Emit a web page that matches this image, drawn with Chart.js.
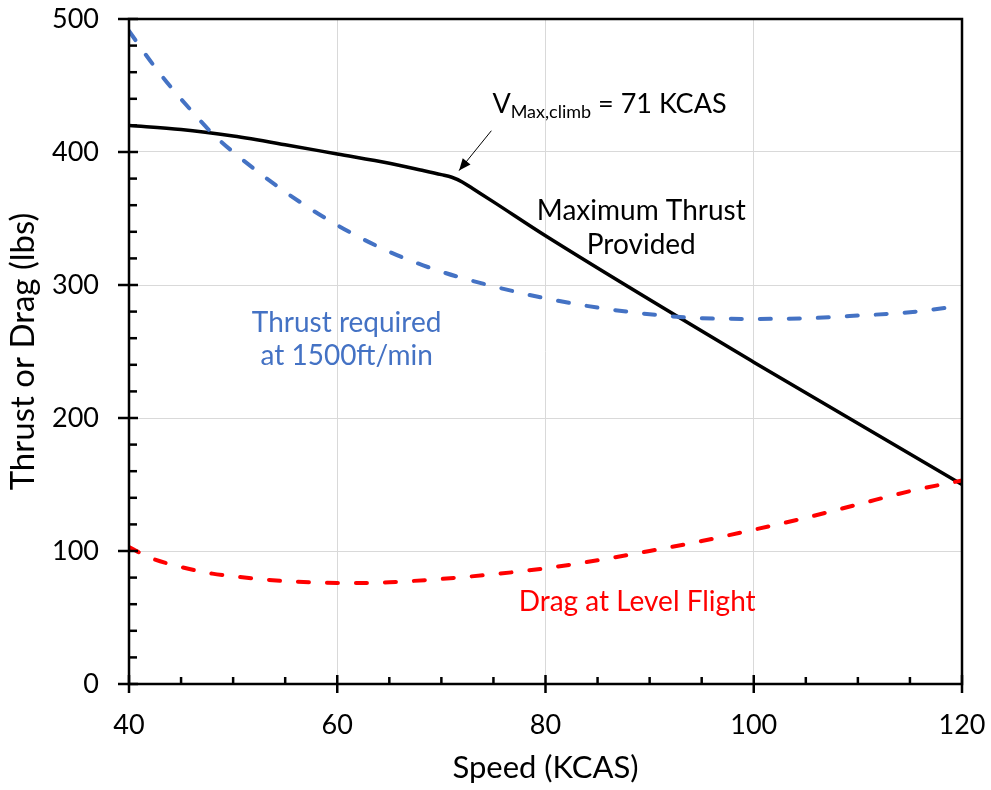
<!DOCTYPE html>
<html>
<head>
<meta charset="utf-8">
<script src="https://cdn.jsdelivr.net/npm/chart.js@4"></script>
<style>
  html, body { margin: 0; padding: 0; background: #ffffff; }
  #wrap { width: 991px; height: 790px; }
</style>
</head>
<body>
<div id="wrap"><canvas id="c" width="991" height="790"></canvas></div>
<script>
// Maximum thrust provided (lbs) vs calibrated airspeed (KCAS)
const thrustSpeeds = [40, 45, 50, 55, 60, 65, 68, 70, 71, 72, 73, 75, 80, 100, 120];
const thrustAvailable = [420, 417, 412, 405.5, 398.5, 391.5, 386.5, 383, 381, 377.5, 372.5, 362.5, 337, 242, 150];

// Thrust required to climb at 1500 ft/min
const climbSpeeds = [40, 42, 44, 46, 48, 50, 55, 60, 65, 70, 75, 80, 85, 90, 95, 100, 105, 110, 115, 120];
const climbThrust = [491, 469, 449, 431, 414, 400, 370, 345, 325, 310, 299, 290, 283, 278, 275, 274.5, 275, 277, 279.5, 284.5];

// Drag in level flight
const dragSpeeds = [40, 42, 45, 48, 50, 53, 56, 60, 63, 65, 70, 75, 80, 85, 90, 95, 100, 105, 110, 115, 120];
const levelDrag = [103, 95, 88, 83, 81, 78.5, 77, 76, 76, 76.5, 79, 82.5, 87, 93, 100, 107.5, 116, 125, 135, 145, 153];

// Axis settings
const speedTicks = [40, 60, 80, 100, 120];
const forceTicks = [0, 100, 200, 300, 400, 500];
const vMaxClimb = 71;

const pts = (xs, ys) => xs.map((v, i) => ({ x: v, y: ys[i] }));

const FONT = 'Lato';
const BLUE = '#4472C4';
const RED = '#FF0000';

// Frame, tick marks and text annotations
const overlay = {
  id: 'overlay',
  afterDraw(chart) {
    const { ctx, chartArea: a, scales: { x, y } } = chart;
    ctx.save();
    ctx.strokeStyle = '#000';
    ctx.lineWidth = 2.5;
    ctx.lineCap = 'butt';

    // x ticks: majors cross the axis, minors point inward
    for (let v = 40; v <= 120; v += 5) {
      const px = x.getPixelForValue(v);
      ctx.beginPath();
      if (v % 20 === 0) { ctx.moveTo(px, a.bottom - 9); ctx.lineTo(px, a.bottom + 9); }
      else { ctx.moveTo(px, a.bottom); ctx.lineTo(px, a.bottom - 7); }
      ctx.stroke();
    }
    // y ticks
    for (let v = 0; v <= 500; v += 20) {
      const py = y.getPixelForValue(v);
      ctx.beginPath();
      if (v % 100 === 0) { ctx.moveTo(a.left - 11, py); ctx.lineTo(a.left + 9, py); }
      else { ctx.moveTo(a.left, py); ctx.lineTo(a.left + 8, py); }
      ctx.stroke();
    }
    // plot frame
    ctx.strokeRect(a.left, a.top, a.right - a.left, a.bottom - a.top);

    // series labels
    ctx.textAlign = 'center';
    ctx.textBaseline = 'alphabetic';
    ctx.font = `28px ${FONT}`;
    ctx.fillStyle = '#000';
    ctx.fillText('Maximum Thrust', x.getPixelForValue(89.2), y.getPixelForValue(349));
    ctx.fillText('Provided', x.getPixelForValue(89.2), y.getPixelForValue(323));

    ctx.fillStyle = BLUE;
    ctx.fillText('Thrust required', x.getPixelForValue(60.9), y.getPixelForValue(265));
    ctx.fillText('at 1500ft/min', x.getPixelForValue(60.9), y.getPixelForValue(240));

    ctx.fillStyle = RED;
    ctx.fillText('Drag at Level Flight', x.getPixelForValue(88.8), y.getPixelForValue(55));

    // V_max,climb callout
    ctx.fillStyle = '#000';
    ctx.textAlign = 'left';
    let tx = x.getPixelForValue(74.9);
    const ty = y.getPixelForValue(429.3);
    ctx.font = `27px ${FONT}`;
    ctx.fillText('V', tx, ty);
    tx += ctx.measureText('V').width;
    ctx.font = `18px ${FONT}`;
    ctx.fillText('Max,climb', tx, ty + 5);
    tx += ctx.measureText('Max,climb').width;
    ctx.font = `27px ${FONT}`;
    ctx.fillText(` = ${vMaxClimb} KCAS`, tx, ty);

    // arrow toward the knee of the thrust curve
    const x0 = x.getPixelForValue(74.8), y0 = y.getPixelForValue(416);
    const x1 = x.getPixelForValue(71.7), y1 = y.getPixelForValue(386);
    ctx.strokeStyle = '#000';
    ctx.lineWidth = 1;
    ctx.beginPath(); ctx.moveTo(x0, y0); ctx.lineTo(x1, y1); ctx.stroke();
    const ang = Math.atan2(y1 - y0, x1 - x0);
    const hl = 12, hw = 5;
    ctx.beginPath();
    ctx.moveTo(x1, y1);
    ctx.lineTo(x1 - hl * Math.cos(ang) + hw * Math.sin(ang), y1 - hl * Math.sin(ang) - hw * Math.cos(ang));
    ctx.lineTo(x1 - hl * Math.cos(ang) - hw * Math.sin(ang), y1 - hl * Math.sin(ang) + hw * Math.cos(ang));
    ctx.closePath();
    ctx.fill();
    ctx.restore();
  }
};

const noOverflow = s => { s.paddingTop = 0; s.paddingBottom = 0; s.paddingLeft = 0; s.paddingRight = 0; };

new Chart(document.getElementById('c'), {
  type: 'line',
  data: {
    datasets: [
      {
        label: 'Drag at Level Flight',
        data: pts(dragSpeeds, levelDrag),
        borderColor: RED, borderWidth: 4, borderDash: [11, 18], borderCapStyle: 'round',
        pointRadius: 0, cubicInterpolationMode: 'monotone', fill: false
      },
      {
        label: 'Thrust required at 1500ft/min',
        data: pts(climbSpeeds, climbThrust),
        borderColor: BLUE, borderWidth: 4, borderDash: [11, 18], borderCapStyle: 'round',
        pointRadius: 0, cubicInterpolationMode: 'monotone', fill: false
      },
      {
        label: 'Maximum Thrust Provided',
        data: pts(thrustSpeeds, thrustAvailable),
        borderColor: '#000', borderWidth: 3.5, borderCapStyle: 'round',
        pointRadius: 0, cubicInterpolationMode: 'monotone', fill: false
      }
    ]
  },
  options: {
    responsive: false,
    animation: false,
    devicePixelRatio: 1,
    layout: { padding: { top: 19, right: 29, left: 0, bottom: 0 } },
    plugins: { legend: { display: false }, tooltip: { enabled: false } },
    scales: {
      x: {
        type: 'linear',
        min: speedTicks[0], max: speedTicks[speedTicks.length - 1],
        afterFit: s => { s.height = 106; noOverflow(s); },
        afterBuildTicks: s => { s.ticks = speedTicks.map(v => ({ value: v })); },
        grid: { color: '#d9d9d9', lineWidth: 1, drawTicks: false },
        border: { display: false },
        ticks: { color: '#000', font: { family: FONT, size: 27 }, padding: 25, maxRotation: 0 },
        title: { display: true, text: 'Speed (KCAS)', color: '#000', font: { family: FONT, size: 31 }, padding: { top: 0, bottom: 3 } }
      },
      y: {
        type: 'linear',
        min: forceTicks[0], max: forceTicks[forceTicks.length - 1],
        afterFit: s => { s.width = 129; noOverflow(s); },
        afterBuildTicks: s => { s.ticks = forceTicks.map(v => ({ value: v })); },
        grid: { color: '#d9d9d9', lineWidth: 1, drawTicks: false },
        border: { display: false },
        ticks: { color: '#000', font: { family: FONT, size: 27 }, padding: 30 },
        title: { display: true, text: 'Thrust or Drag (lbs)', color: '#000', font: { family: FONT, size: 33 }, padding: { top: 4, bottom: 0 } }
      }
    }
  },
  plugins: [overlay]
});
</script>
</body>
</html>
